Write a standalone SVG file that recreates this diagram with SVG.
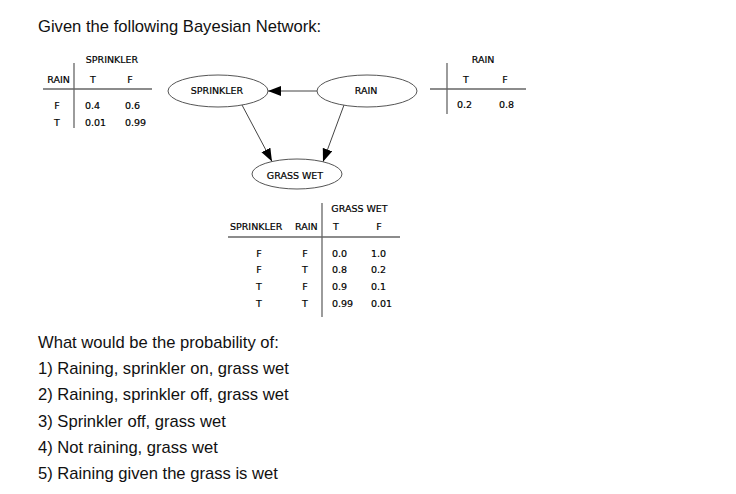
<svg xmlns="http://www.w3.org/2000/svg" width="736" height="494" viewBox="0 0 736 494">
<defs>
<marker id="arr" markerUnits="userSpaceOnUse" markerWidth="14" markerHeight="11" refX="13" refY="5" orient="auto">
<path d="M0,0 L13,5 L0,10 z" fill="#000"/>
</marker>
<style>
.body{font-family:"Liberation Sans",Arial,sans-serif;font-size:16.6px;fill:#111}
.t{font-family:"DejaVu Sans",sans-serif;font-size:9.5px;fill:#000;stroke:#000;stroke-width:0.2}
.m{text-anchor:middle}
.node{fill:#fff;stroke:#555;stroke-width:1}
.edge{stroke:#444;stroke-width:1;fill:none;marker-end:url(#arr)}
.rule{stroke:#666;stroke-width:1.3}
</style>
</defs>
<rect width="736" height="494" fill="#fff"/>
<text class="body" x="38" y="32">Given the following Bayesian Network:</text>

<g id="table-sprinkler">
<line class="rule" x1="43" y1="89" x2="152" y2="89"/>
<line class="rule" x1="74" y1="63" x2="74" y2="128"/>
<text class="t m" x="112" y="63">SPRINKLER</text>
<text class="t m" x="58.5" y="83">RAIN</text>
<text class="t m" x="93" y="83">T</text>
<text class="t m" x="130" y="83">F</text>
<text class="t m" x="57" y="109">F</text>
<text class="t" x="85" y="109">0.4</text>
<text class="t" x="125" y="109">0.6</text>
<text class="t m" x="57" y="126">T</text>
<text class="t" x="85" y="126">0.01</text>
<text class="t" x="125" y="126">0.99</text>
</g>

<g id="table-rain">
<line class="rule" x1="430" y1="89" x2="526" y2="89"/>
<line class="rule" x1="447" y1="63" x2="447" y2="114"/>
<text class="t m" x="483" y="63">RAIN</text>
<text class="t m" x="466" y="83">T</text>
<text class="t m" x="505" y="83">F</text>
<text class="t" x="457" y="108">0.2</text>
<text class="t" x="499" y="108">0.8</text>
</g>

<g id="connectors">
<line class="edge" x1="317" y1="91" x2="268" y2="91"/>
<line class="edge" x1="242" y1="105" x2="272" y2="161.5"/>
<line class="edge" x1="344" y1="105" x2="323" y2="161.8"/>
</g>

<g id="node-sprinkler">
<ellipse class="node" cx="218" cy="91" rx="50" ry="16"/>
<text class="t m" x="217" y="93.5">SPRINKLER</text>
</g>
<g id="node-rain">
<ellipse class="node" cx="367" cy="91" rx="50" ry="16"/>
<text class="t m" x="366" y="93.5">RAIN</text>
</g>
<g id="node-grasswet">
<ellipse class="node" cx="297" cy="174" rx="45" ry="15"/>
<text class="t m" x="295" y="178.5">GRASS WET</text>
</g>

<g id="table-grasswet">
<line class="rule" x1="228" y1="237" x2="400" y2="237"/>
<line class="rule" x1="322" y1="203" x2="322" y2="317"/>
<text class="t m" x="359.5" y="212">GRASS WET</text>
<text class="t" x="230" y="230">SPRINKLER</text>
<text class="t" x="295" y="230">RAIN</text>
<text class="t m" x="336" y="230">T</text>
<text class="t m" x="379" y="230">F</text>
<text class="t m" x="259" y="257">F</text>
<text class="t m" x="305" y="257">F</text>
<text class="t" x="332" y="257">0.0</text>
<text class="t" x="371" y="257">1.0</text>
<text class="t m" x="259" y="273">F</text>
<text class="t m" x="305" y="273">T</text>
<text class="t" x="332" y="273">0.8</text>
<text class="t" x="371" y="273">0.2</text>
<text class="t m" x="259" y="290">T</text>
<text class="t m" x="305" y="290">F</text>
<text class="t" x="332" y="290">0.9</text>
<text class="t" x="371" y="290">0.1</text>
<text class="t m" x="259" y="307">T</text>
<text class="t m" x="305" y="307">T</text>
<text class="t" x="332" y="307">0.99</text>
<text class="t" x="371" y="307">0.01</text>
</g>

<text class="body" x="38" y="348">What would be the probability of:</text>
<text class="body" x="38" y="374">1) Raining, sprinkler on, grass wet</text>
<text class="body" x="38" y="400">2) Raining, sprinkler off, grass wet</text>
<text class="body" x="38" y="427">3) Sprinkler off, grass wet</text>
<text class="body" x="38" y="453">4) Not raining, grass wet</text>
<text class="body" x="38" y="479">5) Raining given the grass is wet</text>
</svg>
